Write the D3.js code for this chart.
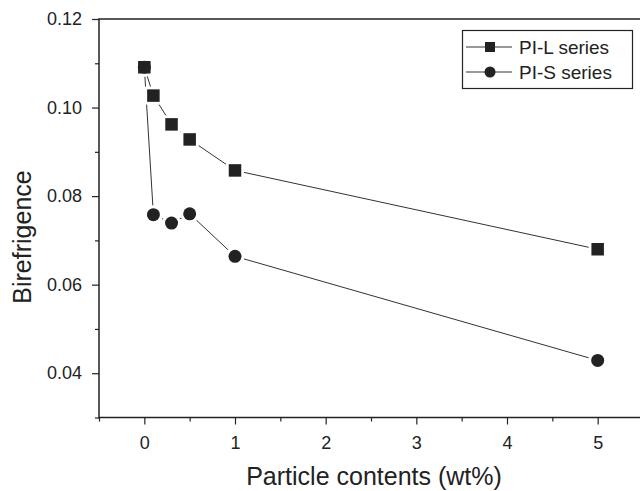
<!DOCTYPE html>
<html>
<head>
<meta charset="utf-8">
<script src="https://cdn.jsdelivr.net/npm/d3@7"></script>
<style>
  body { margin: 0; background: #fff; }
  svg { display: block; font-family: "Liberation Sans", Arial, sans-serif; }
</style>
</head>
<body>
<svg id="chart" width="640" height="491"></svg>
<script>
// particle content (wt%) and birefringence of the two series
var contents = [0, 0.1, 0.3, 0.5, 1, 5];
var piL = [0.1091, 0.1027, 0.0962, 0.0928, 0.0858, 0.0680];
var piS = [0.1091, 0.0758, 0.0739, 0.0760, 0.0664, 0.0429];
var seriesNames = ["PI-L series", "PI-S series"];

var xTicks = [0, 1, 2, 3, 4, 5];
var xMinor = [-0.5, 0.5, 1.5, 2.5, 3.5, 4.5];
var yTicks = [0.04, 0.06, 0.08, 0.10, 0.12];
var yMinor = [0.03, 0.05, 0.07, 0.09, 0.11];

var svg = d3.select("#chart"),
    plotL = 99, plotR = 643, plotT = 19, plotB = 417.5,
    ink = "#222";

var x = d3.scaleLinear().domain([-0.5, 5.5]).range([plotL, plotR]);
var y = d3.scaleLinear().domain([0.03, 0.12]).range([plotB, plotT]);

// frame (right side falls outside the picture)
svg.append("rect")
    .attr("x", plotL).attr("y", plotT)
    .attr("width", plotR - plotL).attr("height", plotB - plotT)
    .attr("fill", "none")
    .attr("stroke", ink)
    .attr("stroke-width", 1.5);

// minor ticks first, then major ticks with labels
svg.append("g")
    .attr("transform", "translate(0," + plotB + ")")
    .call(d3.axisBottom(x).tickValues(xMinor).tickSize(4).tickFormat(""))
    .call(function(g) { g.select(".domain").remove(); });

svg.append("g")
    .attr("transform", "translate(" + plotL + ",0)")
    .call(d3.axisLeft(y).tickValues(yMinor).tickSize(4).tickFormat(""))
    .call(function(g) { g.select(".domain").remove(); });

var xAxis = svg.append("g")
    .attr("transform", "translate(0," + plotB + ")")
    .call(d3.axisBottom(x).tickValues(xTicks).tickSize(7).tickPadding(12).tickFormat(d3.format("d")));
xAxis.select(".domain").remove();

var yAxis = svg.append("g")
    .attr("transform", "translate(" + plotL + ",0)")
    .call(d3.axisLeft(y).tickValues(yTicks).tickSize(7).tickPadding(10).tickFormat(d3.format(".2f")));
yAxis.select(".domain").remove();

svg.selectAll(".tick line").attr("stroke", ink).attr("stroke-width", 1.2);
svg.selectAll("g.tick text")
    .attr("fill", ink)
    .attr("font-size", 18)
    .attr("font-family", "'Liberation Sans', Arial, sans-serif");
svg.selectAll("g[font-size]").attr("font-size", 18);

// axis titles
svg.append("text")
    .attr("x", 374).attr("y", 485)
    .attr("text-anchor", "middle")
    .attr("fill", ink)
    .style("font-size", "25px")
    .text("Particle contents (wt%)");

svg.append("text")
    .attr("transform", "translate(31,237) rotate(-90)")
    .attr("text-anchor", "middle")
    .attr("fill", ink)
    .style("font-size", "25px")
    .text("Birefrigence");

var line = d3.line()
    .x(function(d, i) { return x(contents[i]); })
    .y(function(d) { return y(d); });

[piS, piL].forEach(function(s) {
    svg.append("path")
        .datum(s)
        .attr("d", line)
        .attr("fill", "none")
        .attr("stroke", "#333")
        .attr("stroke-width", 1);
});

function drawSquare(g, cx, cy, size) {
    g.append("rect")
        .attr("x", cx - size / 2).attr("y", cy - size / 2)
        .attr("width", size).attr("height", size);
}
function drawCircle(g, cx, cy, r) {
    g.append("circle").attr("cx", cx).attr("cy", cy).attr("r", r);
}

// white halos leave the little gap between line and marker
var halo = svg.append("g").attr("fill", "#fff");
piS.forEach(function(v, i) { drawCircle(halo, x(contents[i]), y(v), 9.5); });
piL.forEach(function(v, i) { drawSquare(halo, x(contents[i]), y(v), 18); });

var marks = svg.append("g").attr("fill", ink);
piS.forEach(function(v, i) { drawCircle(marks, x(contents[i]), y(v), 6.5); });
piL.forEach(function(v, i) { drawSquare(marks, x(contents[i]), y(v), 12.5); });

// legend
var legend = svg.append("g");
legend.append("rect")
    .attr("x", 462.5).attr("y", 30.5)
    .attr("width", 170).attr("height", 58)
    .attr("fill", "#fff")
    .attr("stroke", ink)
    .attr("stroke-width", 1.2);

seriesNames.forEach(function(name, i) {
    var ly = 47 + i * 25;
    legend.append("line")
        .attr("x1", 466).attr("x2", 512)
        .attr("y1", ly).attr("y2", ly)
        .attr("stroke", "#333").attr("stroke-width", 1);
    var lg = legend.append("g").attr("fill", ink);
    if (i === 0) drawSquare(lg, 490, ly, 10);
    else drawCircle(lg, 490, ly, 5.5);
    legend.append("text")
        .attr("x", 519).attr("y", ly)
        .attr("dy", "0.36em")
        .attr("fill", ink)
        .style("font-size", "19px")
        .text(name);
});
</script>
</body>
</html>
